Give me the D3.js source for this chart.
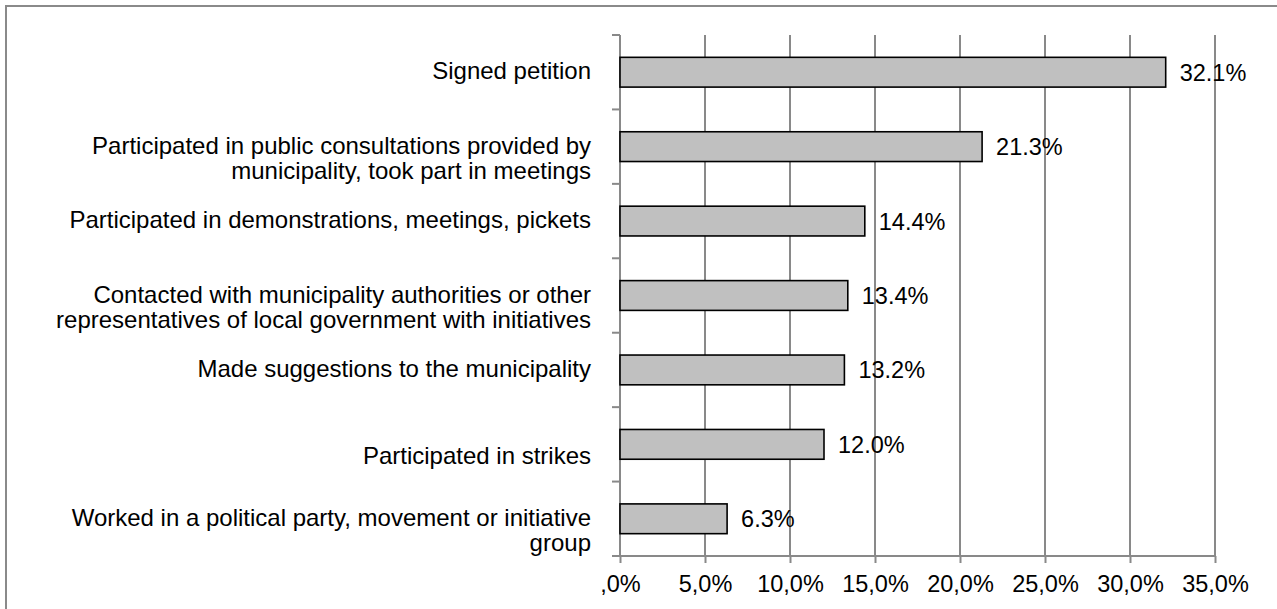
<!DOCTYPE html>
<html>
<head>
<meta charset="utf-8">
<script src="https://cdn.jsdelivr.net/npm/d3@7/dist/d3.min.js"></script>
<style>
  html, body { margin: 0; padding: 0; background: #fff; }
  svg { display: block; }
  text { font-family: "Liberation Sans", Arial, sans-serif; fill: #000; }
</style>
</head>
<body>
<svg id="chart" width="1277" height="609"></svg>
<script>
// ---- data ----
const categories = [
  ["Signed petition"],
  ["", "Participated in public consultations provided by", "municipality, took part in meetings"],
  ["Participated in demonstrations, meetings, pickets"],
  ["", "Contacted with municipality authorities or other", "representatives of local government with initiatives"],
  ["Made suggestions to the municipality"],
  ["", "Participated in strikes"],
  ["", "Worked in a political party, movement or initiative", "group"]
];
const values = [32.1, 21.3, 14.4, 13.4, 13.2, 12.0, 6.3];
const valueLabels = ["32.1%", "21.3%", "14.4%", "13.4%", "13.2%", "12.0%", "6.3%"];
const xTicks = [0, 5, 10, 15, 20, 25, 30, 35];
const xTickLabels = [",0%", "5,0%", "10,0%", "15,0%", "20,0%", "25,0%", "30,0%", "35,0%"];

(function () {
// ---- layout ----
const svg = d3.select("#chart");
const mLeft = 620, mRight = 1215, mTop = 35, mBottom = 556;
const gridColor = "#898989";

// outer frame
svg.append("rect")
  .attr("x", 6).attr("y", 6).attr("width", 1400).attr("height", 800)
  .attr("fill", "none").attr("stroke", "#8a8a8a").attr("stroke-width", 2);

const x = d3.scaleLinear().domain([0, 35]).range([mLeft, mRight]);
const idx = d3.range(categories.length);
const y = d3.scaleBand().domain(idx).range([mTop, mBottom])
  .paddingInner(0.6).paddingOuter(0.3);

// gridlines
svg.append("g").selectAll("line")
  .data(xTicks.filter(d => d > 0))
  .join("line")
  .attr("x1", d => x(d)).attr("x2", d => x(d))
  .attr("y1", mTop).attr("y2", mBottom)
  .attr("stroke", gridColor).attr("stroke-width", 2);

// bottom axis
const xAxis = d3.axisBottom(x)
  .tickValues(xTicks)
  .tickFormat((d, i) => xTickLabels[i])
  .tickSize(7).tickSizeOuter(0).tickPadding(12);
const gx = svg.append("g").attr("transform", `translate(0,${mBottom})`).call(xAxis);
gx.select(".domain").attr("stroke", gridColor).attr("stroke-width", 2)
  .attr("d", `M${mLeft - 8},0H${mRight}`);
gx.selectAll(".tick line").attr("stroke", gridColor).attr("stroke-width", 2);
gx.selectAll(".tick text")
  .attr("font-size", "23.5px")
  .attr("font-family", "'Liberation Sans', Arial, sans-serif")
  .attr("fill", "#000")
  .attr("dy", null)
  .attr("y", 35.5);

// left axis: line + ticks at band boundaries
const step = y.step();
const boundaries = d3.range(categories.length + 1).map(i => mTop + i * step);
svg.append("line")
  .attr("x1", mLeft).attr("x2", mLeft).attr("y1", mTop).attr("y2", mBottom)
  .attr("stroke", gridColor).attr("stroke-width", 2);
svg.append("g").selectAll("line")
  .data(boundaries)
  .join("line")
  .attr("x1", mLeft - 8).attr("x2", mLeft)
  .attr("y1", d => d).attr("y2", d => d)
  .attr("stroke", gridColor).attr("stroke-width", 2);

// bars
svg.append("g").selectAll("rect")
  .data(values)
  .join("rect")
  .attr("x", x(0))
  .attr("y", (d, i) => y(i))
  .attr("width", d => x(d) - x(0))
  .attr("height", y.bandwidth())
  .attr("fill", "#c0c0c0")
  .attr("stroke", "#000")
  .attr("stroke-width", 1.6);

// value labels
svg.append("g").selectAll("text")
  .data(values)
  .join("text")
  .attr("x", d => x(d) + 14)
  .attr("y", (d, i) => y(i) + y.bandwidth() / 2 + 8.5)
  .attr("font-size", "23.5px")
  .text((d, i) => valueLabels[i]);

// category labels
const lineH = 25;
const catG = svg.append("g");
categories.forEach((lines, i) => {
  const cy = y(i) + y.bandwidth() / 2;
  const n = lines.length;
  const t = catG.append("text")
    .attr("text-anchor", "end")
    .attr("font-size", "24px");
  lines.forEach((ln, j) => {
    t.append("tspan")
      .attr("x", 591)
      .attr("y", cy + (j - (n - 1) / 2) * lineH + 7)
      .text(ln);
  });
});
})();
</script>
</body>
</html>
